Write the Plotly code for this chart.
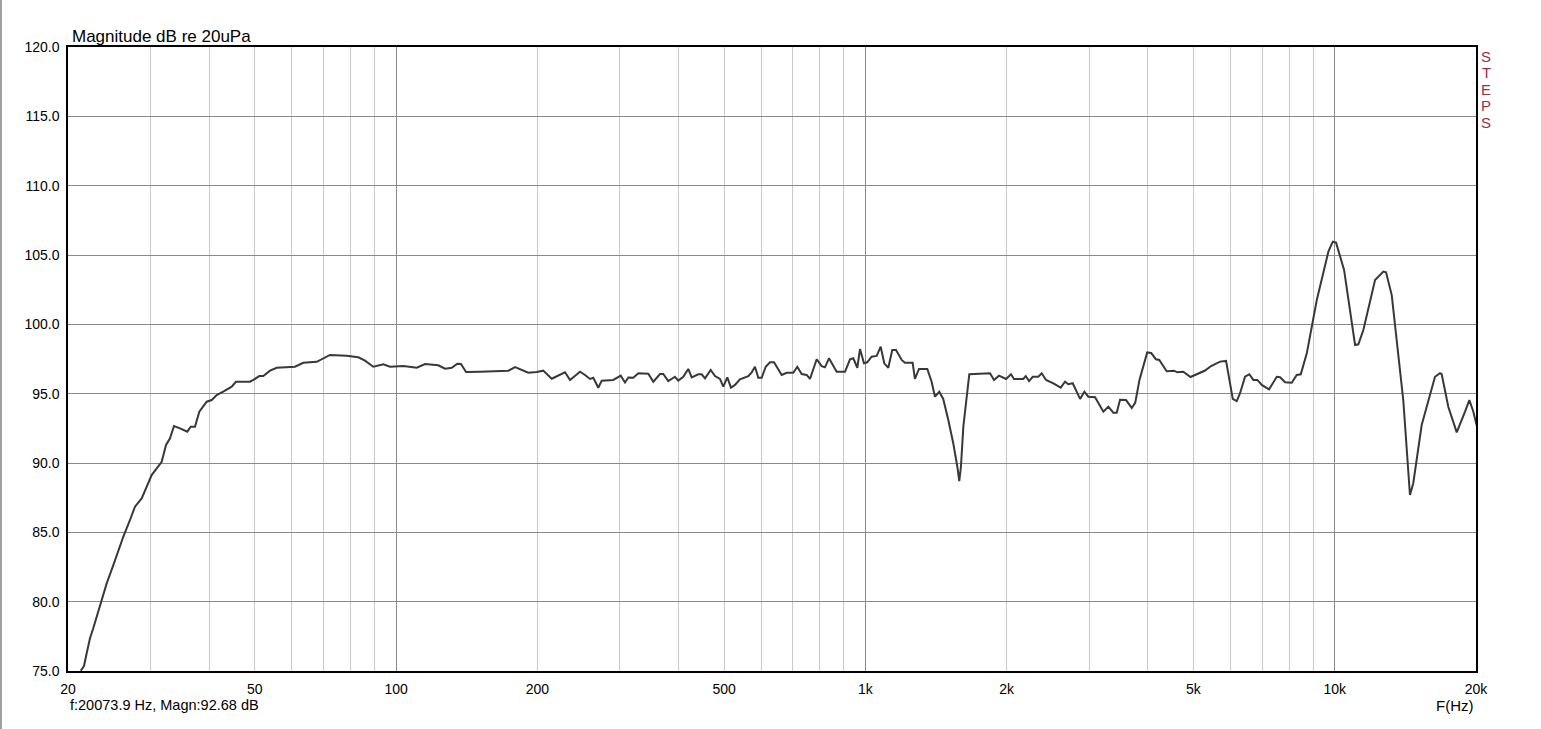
import math
import plotly.graph_objects as go

# ---- data ----
freq_hz = [21.29, 21.63, 21.92, 22.28, 22.64, 23.40, 24.18, 24.98, 26.23, 27.11,
           27.78, 28.71, 30.15, 31.67, 32.35, 32.99, 33.64, 34.65, 35.91, 36.51,
           37.29, 38.09, 39.50, 40.48, 41.48, 42.84, 44.65, 45.60, 48.85, 49.65,
           51.13, 52.14, 53.89, 55.69, 60.91, 63.44, 67.77, 72.32, 78.50, 83.10,
           85.88, 89.45, 93.95, 97.08, 103.6, 110.7, 115.3, 123.0, 127.2, 131.4,
           135.1, 137.5, 141.0, 151.0, 162.5, 173.5, 179.3, 183.7, 191.3, 199.4,
           205.9, 214.6, 220.0, 229.1, 234.8, 240.6, 246.6, 252.7, 259.0, 263.2,
           269.7, 274.3, 290.3, 301.1, 307.5, 312.5, 320.3, 328.2, 344.7, 353.3,
           365.1, 371.0, 380.2, 392.9, 399.3, 409.3, 419.4, 426.5, 440.5, 447.9,
           455.3, 468.2, 478.2, 490.0, 498.0, 507.9, 517.2, 527.4, 540.5, 563.0,
           572.5, 581.8, 591.3, 601.3, 613.2, 626.3, 638.7, 663.2, 679.7, 702.1,
           716.0, 731.6, 749.8, 762.0, 787.5, 807.0, 820.2, 836.5, 868.7, 904.8,
           927.3, 942.4, 961.1, 973.9, 993.2, 1009, 1031, 1057, 1078, 1097,
           1119, 1141, 1162, 1195, 1214, 1261, 1275, 1301, 1355, 1384,
           1407, 1437, 1465, 1502, 1539, 1570, 1585, 1598, 1617, 1665,
           1843, 1880, 1926, 1994, 2043, 2073, 2170, 2196, 2232, 2273,
           2336, 2375, 2426, 2515, 2608, 2663, 2706, 2765, 2867, 2928,
           2986, 3086, 3214, 3294, 3375, 3432, 3488, 3592, 3694, 3759,
           3837, 3985, 4064, 4161, 4229, 4385, 4546, 4620, 4758, 4929,
           5123, 5294, 5452, 5698, 5868, 6064, 6184, 6285, 6441, 6578,
           6709, 6842, 6991, 7246, 7525, 7648, 7838, 8099, 8300, 8465,
           8719, 8935, 9158, 9694, 9906, 10066, 10470, 11050, 11230, 11508,
           12188, 12694, 12864, 13228, 13998, 14466, 14702, 15322, 16355, 16761,
           16902, 17458, 18195, 18953, 19357, 19741, 20074]

magnitude_db = [75.02, 75.36, 76.28, 77.36, 78.08, 79.76, 81.32, 82.64, 84.68, 85.89,
                86.85, 87.45, 89.13, 90.09, 91.30, 91.78, 92.67, 92.50, 92.26, 92.62,
                92.62, 93.70, 94.42, 94.54, 94.90, 95.14, 95.50, 95.86, 95.86, 95.99,
                96.27, 96.27, 96.66, 96.87, 96.94, 97.23, 97.30, 97.79, 97.74, 97.62,
                97.38, 96.94, 97.12, 96.94, 96.99, 96.87, 97.14, 97.05, 96.80, 96.87,
                97.16, 97.14, 96.56, 96.58, 96.61, 96.66, 96.92, 96.78, 96.51, 96.56,
                96.66, 96.08, 96.27, 96.54, 95.99, 96.30, 96.58, 96.35, 96.06, 96.15,
                95.43, 95.94, 95.99, 96.30, 95.81, 96.17, 96.15, 96.47, 96.44, 95.86,
                96.42, 96.42, 95.91, 96.22, 95.94, 96.22, 96.78, 96.18, 96.40, 96.40,
                96.11, 96.71, 96.27, 96.06, 95.50, 96.18, 95.43, 95.63, 96.04, 96.27,
                96.54, 96.94, 96.15, 96.15, 96.94, 97.26, 97.26, 96.35, 96.51, 96.51,
                96.94, 96.42, 96.35, 96.06, 97.48, 96.99, 96.90, 97.55, 96.58, 96.58,
                97.48, 97.55, 96.87, 98.22, 97.19, 97.26, 97.67, 97.72, 98.39, 97.19,
                96.87, 98.15, 98.15, 97.43, 97.23, 97.23, 96.06, 96.78, 96.78, 95.86,
                94.78, 95.14, 94.62, 93.10, 91.42, 89.73, 88.70, 89.73, 92.62, 96.40,
                96.47, 95.99, 96.30, 96.06, 96.40, 96.06, 96.06, 96.27, 95.91, 96.22,
                96.22, 96.47, 95.99, 95.75, 95.43, 95.86, 95.68, 95.75, 94.62, 95.14,
                94.78, 94.74, 93.70, 94.06, 93.63, 93.63, 94.56, 94.54, 93.97, 94.36,
                95.99, 97.97, 97.93, 97.48, 97.43, 96.62, 96.66, 96.54, 96.58, 96.20,
                96.47, 96.67, 96.99, 97.31, 97.36, 94.62, 94.47, 95.03, 96.22, 96.40,
                95.99, 95.99, 95.63, 95.31, 96.22, 96.18, 95.82, 95.79, 96.35, 96.40,
                97.91, 99.95, 101.75, 105.24, 105.96, 105.89, 103.92, 98.51, 98.56, 99.59,
                103.20, 103.80, 103.75, 102.11, 94.54, 87.69, 88.54, 92.74, 96.22, 96.47,
                96.40, 94.06, 92.21, 93.70, 94.54, 93.70, 92.68]

x_tick_vals = [20, 50, 100, 200, 500, 1000, 2000, 5000, 10000, 20000]
x_tick_text = ["20", "50", "100", "200", "500", "1k", "2k", "5k", "10k", "20k"]
decade_vals = [100, 1000, 10000]
y_tick_vals = [75, 80, 85, 90, 95, 100, 105, 110, 115, 120]
y_tick_text = ["75.0", "80.0", "85.0", "90.0", "95.0", "100.0", "105.0", "110.0", "115.0", "120.0"]
brand_letters = ["S", "T", "E", "P", "S"]

x_min, x_max = 20, 20000
y_min, y_max = 75, 120

FONT = "Liberation Sans, Arial, sans-serif"
xr = [math.log10(x_min), math.log10(x_max)]

fig = go.Figure()

# invisible trace on overlay axis (for decade grid lines)
fig.add_trace(go.Scatter(x=[x_min, x_max], y=[y_min, y_min], xaxis="x2", yaxis="y",
                         mode="lines", line=dict(width=0), hoverinfo="skip", showlegend=False))

fig.add_trace(go.Scatter(x=freq_hz, y=magnitude_db, mode="lines",
                         line=dict(color="#383838", width=2), showlegend=False,
                         cliponaxis=True))

fig.update_layout(
    width=1541, height=729,
    margin=dict(l=68, r=65, t=47, b=58),
    paper_bgcolor="white", plot_bgcolor="white",
    font=dict(family=FONT, size=14, color="#000000"),
    xaxis=dict(type="log", range=xr, tickmode="array", tickvals=x_tick_vals, ticktext=x_tick_text,
               showgrid=True, gridcolor="#c8c8c8", gridwidth=1,
               minor=dict(dtick="D1", showgrid=True, gridcolor="#c8c8c8", gridwidth=1, ticks=""),
               ticks="", showline=True, linecolor="black", linewidth=1.5, mirror=True,
               zeroline=False, tickfont=dict(size=14, color="#000000"), ticklabelstandoff=4),
    xaxis2=dict(type="log", range=xr, overlaying="x", tickmode="array", tickvals=decade_vals,
                showticklabels=False, showgrid=True, gridcolor="#8a8a8a", gridwidth=1,
                ticks="", showline=False, zeroline=False),
    yaxis=dict(range=[y_min, y_max], tickmode="array", tickvals=y_tick_vals, ticktext=y_tick_text,
               showgrid=True, gridcolor="#8a8a8a", gridwidth=1, ticks="",
               showline=True, linecolor="black", linewidth=1.5, mirror=True, zeroline=False,
               tickfont=dict(size=14, color="#000000"), ticklabelstandoff=4),
)

fig.add_annotation(text="Magnitude dB re 20uPa", xref="paper", yref="paper", x=0.0014, y=1.0,
                   xanchor="left", yanchor="bottom", showarrow=False, yshift=-1,
                   font=dict(family=FONT, size=17, color="#000000"))
fig.add_annotation(text="f:20073.9 Hz, Magn:92.68 dB", xref="paper", yref="paper", x=0.0, y=0.0,
                   xanchor="left", yanchor="middle", showarrow=False, yshift=-34,
                   font=dict(family=FONT, size=14.5, color="#000000"))
fig.add_annotation(text="F(Hz)", xref="paper", yref="paper", x=1.0, y=0.0,
                   xanchor="right", yanchor="middle", showarrow=False, yshift=-34,
                   font=dict(family=FONT, size=15, color="#000000"))
for i, letter in enumerate(brand_letters):
    fig.add_annotation(text=letter, xref="paper", yref="paper", x=1.0, y=1.0,
                       xanchor="center", yanchor="middle", showarrow=False,
                       xshift=10, yshift=-9 - 16.5 * i,
                       font=dict(family=FONT, size=15, color="#9a3048"))

# window border at far left
fig.add_shape(type="line", xref="paper", yref="paper", x0=-67/1408, x1=-67/1408,
              y0=-60/624, y1=1 + 48/624, line=dict(color="#a0a0a0", width=2))

fig.write_html("out.html", config={"displayModeBar": False},
               post_script="document.body.style.margin='0px';")
